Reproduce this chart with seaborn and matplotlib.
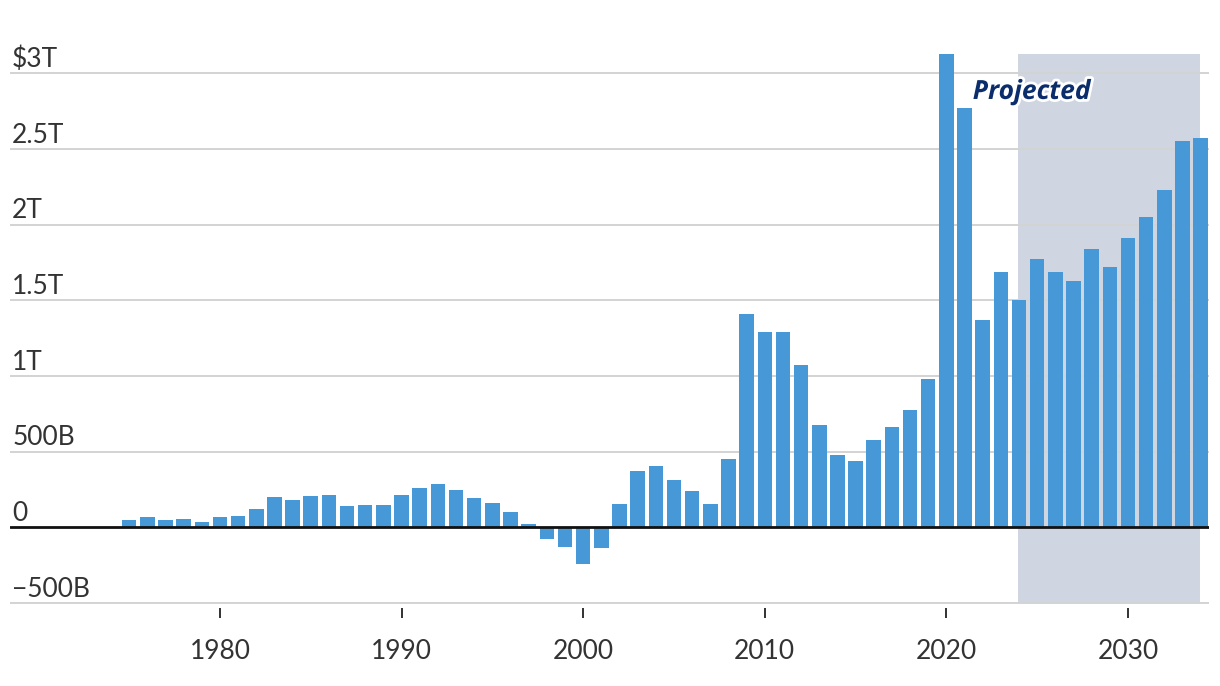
import numpy as np
import pandas as pd
import matplotlib
matplotlib.use("Agg")
import matplotlib.pyplot as plt
import matplotlib.patheffects as pe
from matplotlib.transforms import blended_transform_factory
import seaborn as sns

# ---- data (billions of dollars) ----
years = list(range(1975, 2035))
deficits = [
    51, 70, 51, 57, 38, 70, 77, 123, 203, 183,   # 1975-1984
    209, 216, 143, 149, 149, 216, 262, 289, 249, 196,   # 1985-1994
    163, 104, 24, -75, -127, -240, -134, 157, 374, 407,  # 1995-2004
    315, 242, 157, 454, 1411, 1293, 1293, 1075, 678, 480,  # 2005-2014
    440, 580, 660, 775, 980, 3130, 2770, 1370, 1690, 1500,  # 2015-2024
    1770, 1690, 1630, 1840, 1720, 1910, 2050, 2230, 2550, 2570,  # 2025-2034
]
ytick_values = [-500, 0, 500, 1000, 1500, 2000, 2500, 3000]
ytick_labels = ["\u2212500B", "0", "500B", "1T", "1.5T", "2T", "2.5T", "$3T"]
xtick_values = [1980, 1990, 2000, 2010, 2020, 2030]
projection_start = 2023.95
projection_end = 2033.95
projection_label = "Projected"

df = pd.DataFrame({"year": years, "deficit": deficits})

sns.set_theme(style="white")
plt.rcParams["font.family"] = ["Lato", "DejaVu Sans"]

fig = plt.figure(figsize=(12.2, 6.86), dpi=100)
W, H = 1220, 686
left_px, right_px, top_px, bottom_px = 10, 1209, 42.8, 608
ax = fig.add_axes([left_px / W, 1 - bottom_px / H,
                   (right_px - left_px) / W, (bottom_px - top_px) / H])

bar_color = "#4698d6"
sns.barplot(data=df, x="year", y="deficit", native_scale=True, color=bar_color,
            width=0.8, saturation=1, ax=ax, zorder=3, linewidth=0)

ax.set_xlim(1968.44, 2034.46)
ax.set_ylim(-533.3, 3201.6)

# projected shading
ax.fill_between([projection_start, projection_end], -500, 3126,
                color="#cfd6e2", zorder=0, linewidth=0)

# gridlines
for v in ytick_values:
    if v == 0:
        ax.axhline(0, color="#111111", lw=2.0, zorder=5)
    else:
        ax.axhline(v, color="#d3d3d3", lw=1.4, zorder=1)

# y labels above gridlines
trans = blended_transform_factory(ax.transAxes, ax.transData)
for v, lab in zip(ytick_values, ytick_labels):
    ax.annotate(lab, xy=(0, v), xycoords=trans, xytext=(1.5, 4.5),
                textcoords="offset points", ha="left", va="baseline",
                fontsize=19, color="#333333")

ax.set_yticks([])
ax.set_xticks(xtick_values)
ax.set_xticklabels([str(x) for x in xtick_values])
ax.tick_params(axis="x", direction="out", length=7, width=1.3, color="#222222",
               pad=15, labelsize=19, labelcolor="#333333", bottom=True)
ax.set_xlabel("")
ax.set_ylabel("")
for s in ax.spines.values():
    s.set_visible(False)

ax.text(2021.45, 2880, projection_label, fontsize=19, fontweight="bold",
        fontstyle="italic", family=["Open Sans", "DejaVu Sans"],
        color="#0b2d6b", va="center", ha="left", zorder=6,
        path_effects=[pe.withStroke(linewidth=4, foreground="white")])

fig.savefig("out.png", dpi=100)
